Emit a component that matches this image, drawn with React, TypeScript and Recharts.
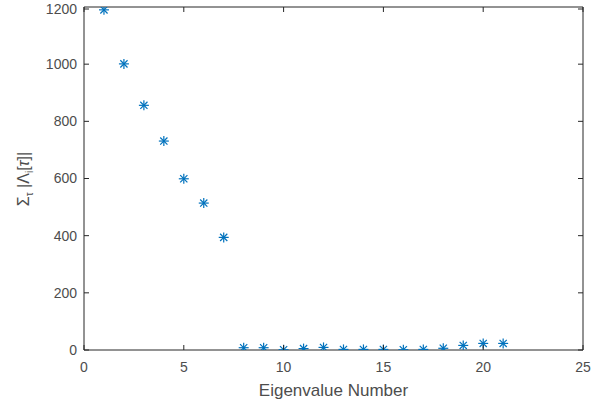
import React from 'react';
import { ScatterChart, Scatter, XAxis, YAxis } from 'recharts';

const eigenNumbers = [1, 2, 3, 4, 5, 6, 7, 8, 9, 10, 11, 12, 13, 14, 15, 16, 17, 18, 19, 20, 21];
const eigenSums = [1190, 1001, 856, 731, 599, 514, 394, 8, 8, 1, 5, 9, 2, 2, 2, 1, 2, 6, 16, 23, 23];
const xTicks = [0, 5, 10, 15, 20, 25];
const yTicks = [0, 200, 400, 600, 800, 1000, 1200];

const points = eigenNumbers.map((n, i) => ({ n, s: eigenSums[i] }));

const AXIS = '#262626';
const TICK_TEXT = '#4d4d4d';
const FONT = '"Liberation Sans", Arial, Helvetica, sans-serif';
const TICK_LEN = 5;

const BottomTick = (props: any) => {
  const { x, y, payload } = props;
  return (
    <g>
      <line x1={x} y1={y - 12} x2={x} y2={y - 12 - TICK_LEN} stroke={AXIS} />
      <text x={x} y={y} dy="0.71em" textAnchor="middle" fill={TICK_TEXT} fontSize={14} fontFamily={FONT}>
        {payload.value}
      </text>
    </g>
  );
};

const LeftTick = (props: any) => {
  const { x, y, payload } = props;
  return (
    <g>
      <line x1={x + 7} y1={y} x2={x + 7 + TICK_LEN} y2={y} stroke={AXIS} />
      <text x={x} y={y} dy="0.355em" textAnchor="end" fill={TICK_TEXT} fontSize={14} fontFamily={FONT}>
        {payload.value}
      </text>
    </g>
  );
};

const TopTick = (props: any) => {
  const { x, y } = props;
  return <line x1={x} y1={y} x2={x} y2={y + TICK_LEN} stroke={AXIS} />;
};

const RightTick = (props: any) => {
  const { x, y } = props;
  return <line x1={x} y1={y} x2={x - TICK_LEN} y2={y} stroke={AXIS} />;
};

const Asterisk = (props: any) => {
  const { cx, cy } = props;
  const r = 5;
  const d = r * 0.72;
  return (
    <g stroke="#0072BD" strokeWidth={1.2}>
      <line x1={cx - r} y1={cy} x2={cx + r} y2={cy} />
      <line x1={cx} y1={cy - r} x2={cx} y2={cy + r} />
      <line x1={cx - d} y1={cy - d} x2={cx + d} y2={cy + d} />
      <line x1={cx - d} y1={cy + d} x2={cx + d} y2={cy - d} />
    </g>
  );
};

const XLabel = (props: any) => {
  const { viewBox } = props;
  return (
    <text
      x={viewBox.x + viewBox.width / 2}
      y={viewBox.y + 45.5}
      textAnchor="middle"
      fill={TICK_TEXT}
      fontSize={17}
      fontFamily={FONT}
    >
      Eigenvalue Number
    </text>
  );
};

const YLabel = (props: any) => {
  const { viewBox } = props;
  const cx = viewBox.x + 29;
  const cy = 179;
  return (
    <text
      x={cx}
      y={cy}
      transform={`rotate(-90, ${cx}, ${cy})`}
      textAnchor="middle"
      fill={TICK_TEXT}
      fontSize={16}
      fontFamily={FONT}
    >
      <tspan>Σ</tspan>
      <tspan fontSize={10} dy={4}>τ</tspan>
      <tspan dy={-4}> |Λ</tspan>
      <tspan fontSize={10} dy={4}>i</tspan>
      <tspan dy={-4}>[</tspan>
      <tspan fontStyle="italic">τ</tspan>
      <tspan>]|</tspan>
    </text>
  );
};

export default function App() {
  return (
    <div style={{ position: 'absolute', left: 0, top: 0, background: '#fff' }}>
      <ScatterChart width={602} height={405} margin={{ top: 6, right: 18, bottom: 25, left: 0 }}>
        <XAxis
          xAxisId="bottom"
          type="number"
          dataKey="n"
          domain={[0, 25]}
          ticks={xTicks}
          height={30}
          tickSize={0}
          tickMargin={12}
          tickLine={false}
          tick={<BottomTick />}
          stroke={AXIS}
          label={<XLabel />}
          allowDataOverflow
        />
        <XAxis
          xAxisId="top"
          orientation="top"
          type="number"
          dataKey="n"
          domain={[0, 25]}
          ticks={xTicks}
          height={1}
          tickSize={0}
          tickMargin={0}
          tickLine={false}
          tick={<TopTick />}
          stroke={AXIS}
          allowDataOverflow
        />
        <YAxis
          yAxisId="left"
          type="number"
          dataKey="s"
          domain={[0, 1200]}
          ticks={yTicks}
          width={84}
          tickSize={0}
          tickMargin={7}
          tickLine={false}
          tick={<LeftTick />}
          stroke={AXIS}
          label={<YLabel />}
          allowDataOverflow
        />
        <YAxis
          yAxisId="right"
          orientation="right"
          type="number"
          dataKey="s"
          domain={[0, 1200]}
          ticks={yTicks}
          width={1}
          tickSize={0}
          tickMargin={0}
          tickLine={false}
          tick={<RightTick />}
          stroke={AXIS}
          allowDataOverflow
        />
        <Scatter
          data={points}
          xAxisId="bottom"
          yAxisId="left"
          shape={<Asterisk />}
          isAnimationActive={false}
        />
      </ScatterChart>
    </div>
  );
}
